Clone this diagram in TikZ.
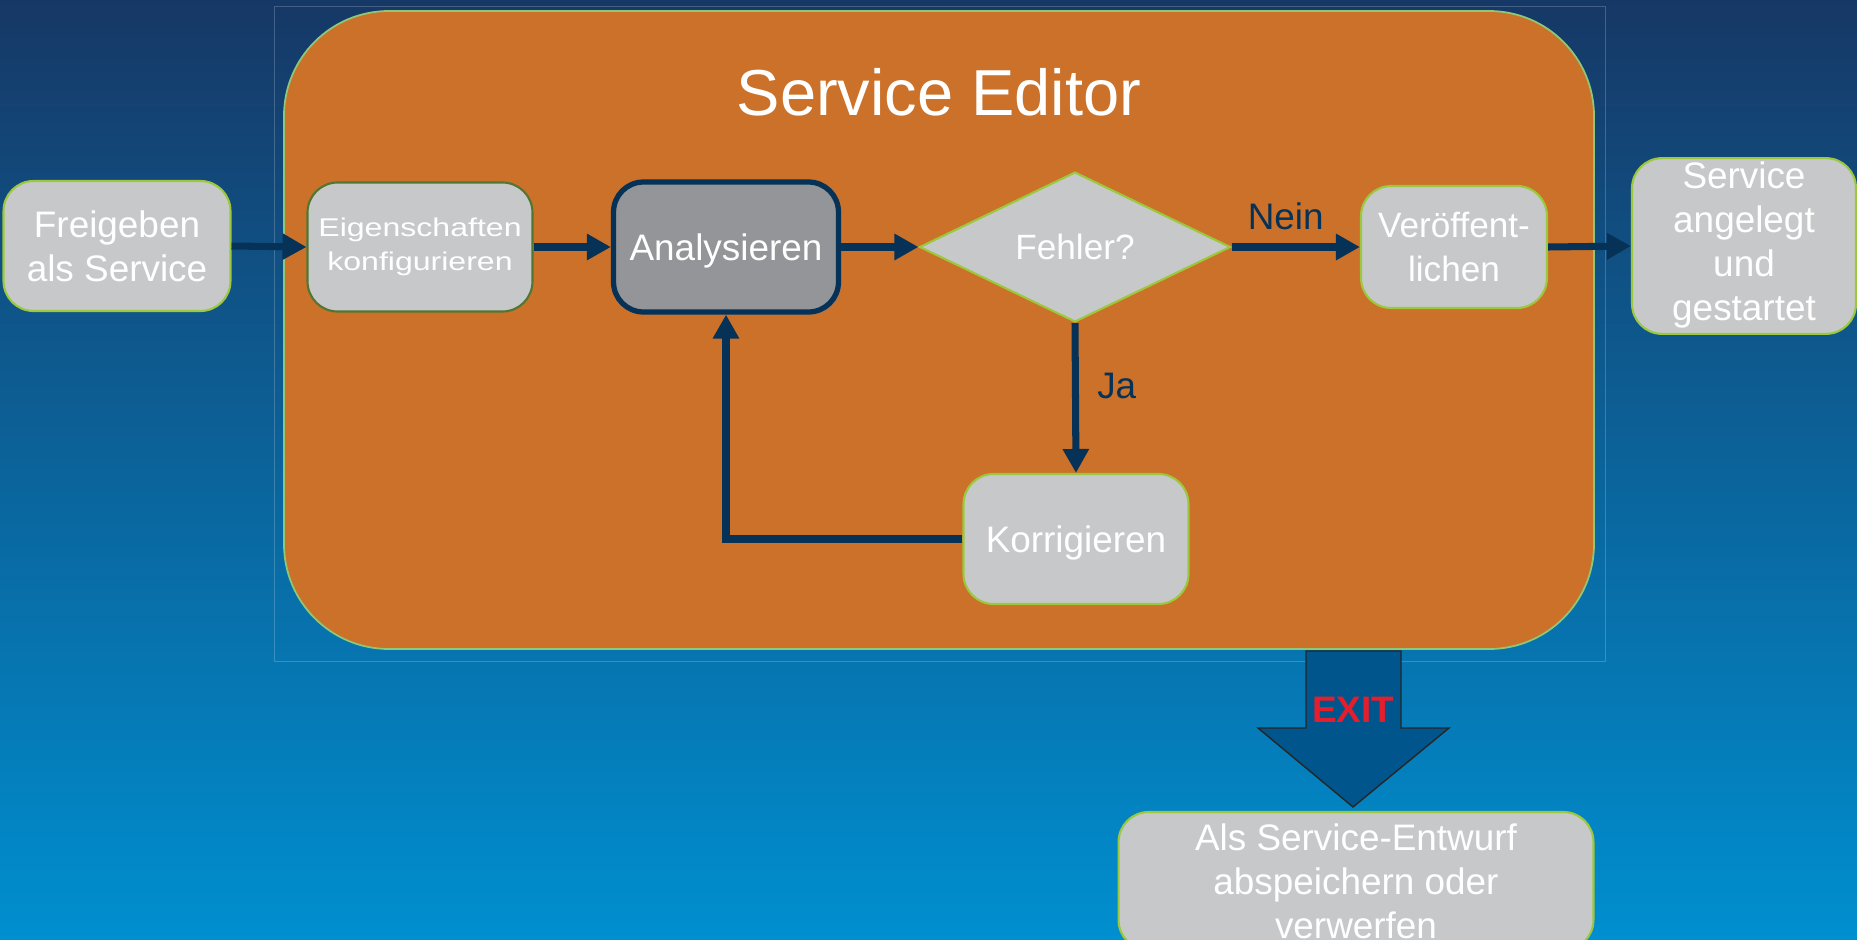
\documentclass[tikz,border=0pt]{standalone}
\usepackage{fontspec}
\setmainfont{Liberation Sans}
\newfontfamily\widefont[FakeStretch=1.25]{Liberation Sans}
\usetikzlibrary{shapes.geometric,arrows.meta,shadows}
\definecolor{bgtop}{RGB}{22,56,102}
\definecolor{bgmid}{RGB}{0,96,166}
\definecolor{bgbot}{RGB}{0,143,208}
\definecolor{panelorange}{RGB}{203,113,41}
\definecolor{panelline}{RGB}{140,200,120}
\definecolor{boxgray}{RGB}{199,200,202}
\definecolor{anagray}{RGB}{147,149,152}
\definecolor{boxgreen}{RGB}{155,200,60}
\definecolor{darkgreen}{RGB}{80,118,50}
\definecolor{flowblue}{RGB}{6,50,87}
\definecolor{exitblue}{RGB}{0,85,140}
\definecolor{exitred}{RGB}{228,30,45}
\begin{document}
\begin{tikzpicture}[x=0.02cm,y=-0.02cm,
    stepbox/.style={draw=boxgreen, line width=1.2pt, fill=boxgray, rounded corners=0.6cm,
        text=white, align=center, inner sep=0pt, font=\fontsize{21}{25}\selectfont},
    oneline/.style={text depth=0pt},
    flow/.style={draw=flowblue, line width=4pt, -{Triangle[length=0.48cm,width=0.5cm]}},
    lbl/.style={text=flowblue, font=\fontsize{21}{25}\selectfont}
]
    % Background
    \clip (0,0) rectangle (1857,940);
    \shade[top color=bgtop, middle color=bgmid, bottom color=bgbot] (0,0) rectangle (1857,940);
    % Service Editor panel
    \draw[draw=white, opacity=0.2, line width=0.5pt] (274,6) rectangle (1605,661);
    \draw[draw=panelline, fill=panelorange, line width=1pt, rounded corners=2.1cm] (284,11) rectangle (1594,649);
    \node[text=white, font=\fontsize{37}{40}\selectfont] (title) at (939,92) {Service Editor};
    % Steps
    \node[stepbox, minimum width=4.54cm, minimum height=2.6cm] (share) at (117,246) {Freigeben\\als Service};
    \node[stepbox, draw=darkgreen, minimum width=4.5cm, minimum height=2.58cm,
        font=\widefont\fontsize{14.6}{19.5}\selectfont] (props) at (420,247) {Eigenschaften\\konfigurieren};
    \node[stepbox, oneline, draw=flowblue, line width=3pt, fill=anagray, minimum width=4.5cm, minimum height=2.6cm,
        drop shadow={opacity=0.5, shadow xshift=1.5pt, shadow yshift=-1.5pt}] (analyze) at (726,247) {Analysieren};
    \node[stepbox, oneline, shape=diamond, rounded corners=0pt, minimum width=6.22cm, minimum height=3cm,
        font=\fontsize{20}{24}\selectfont] (check) at (1075,247) {Fehler?};
    \node[stepbox, minimum width=3.72cm, minimum height=2.44cm, font=\fontsize{20}{25}\selectfont] (publish) at (1454,247) {Veröffent-\\lichen};
    \node[stepbox, minimum width=4.48cm, minimum height=3.46cm] (done) at (1744,246)
        {\raisebox{-0.1cm}{\begin{tabular}{@{}c@{}}Service\\angelegt\\und\\gestartet\end{tabular}}};
    \node[stepbox, oneline, minimum width=4.5cm, minimum height=2.6cm] (fix) at (1076,539) {Korrigieren};
    \node[stepbox, minimum width=9.5cm, minimum height=2.76cm] (draft) at (1356,881) {Als Service-Entwurf\\abspeichern oder\\verwerfen};
    % Connectors
    \draw[flow] (share.east) -- (props.west);
    \draw[flow] (props.east) -- (analyze.west);
    \draw[flow] (analyze.east) -- (check.west);
    \draw[flow] (check.east) -- node[lbl, above, xshift=-0.2cm, yshift=0.15cm] (no) {Nein} (publish.west);
    \draw[flow] (publish.east) -- (done.west);
    \draw[flow] (check.south) -- node[lbl, right, pos=0.42, xshift=0.25cm] (yes) {Ja} (fix.north);
    \draw[flow] (fix.west) -| (analyze.south);
    % Exit arrow
    \draw[draw=black!85, fill=exitblue, line width=0.8pt] (1306,651) -- (1401,651) -- (1401,728) -- (1449,728)
        -- (1353,807) -- (1258,728) -- (1306,728) -- cycle;
    \node[text=exitred, font=\bfseries\fontsize{21}{24}\selectfont] (exit) at (1353,710) {EXIT};
\end{tikzpicture}
\end{document}
